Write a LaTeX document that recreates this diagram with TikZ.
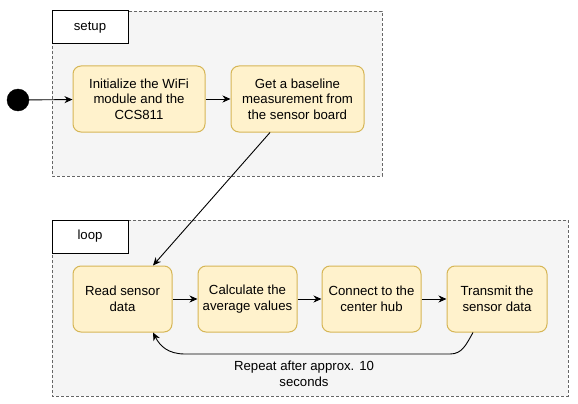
\documentclass[tikz,border=0pt]{standalone}
\usepackage{fontspec}
\setmainfont{Liberation Sans}
\usetikzlibrary{arrows.meta,calc}
\definecolor{boxfill}{HTML}{FFF2CC}
\definecolor{boxline}{HTML}{D6B656}
\definecolor{contfill}{HTML}{F5F5F5}
\definecolor{contline}{HTML}{666666}
\begin{document}
\begin{tikzpicture}[x=1pt,y=-1pt,
  every node/.style={font=\fontsize{13.2}{15.6}\selectfont, align=center, inner sep=0pt},
  container/.style={draw=contline, fill=contfill, dashed, line width=0.8pt, dash pattern=on 3pt off 2pt},
  tagbox/.style={draw=black, fill=white, line width=1pt, minimum width=76pt, minimum height=33pt},
  stepbox/.style={draw=boxline, fill=boxfill, rounded corners=8pt, line width=1pt, minimum height=66pt},
  flow/.style={draw=black, line width=0.9pt, -{Stealth[length=8pt,width=7pt,inset=2.5pt]}}
]
\useasboundingbox (0,0) rectangle (578,404);
% containers
\path[container] (52,11) rectangle (382,176);
\path[container] (52,220) rectangle (568,396);
\node[tagbox] (setup) at (90,27.5) {setup};
\node[tagbox] (loop) at (90,236.5) {loop};
% start
\node[circle, fill=black, draw=black, minimum size=22pt] (start) at (18,100) {};
% setup steps
\node[stepbox, minimum width=132pt] (init) at (139,99) {Initialize the WiFi\\module and the\\CCS811};
\node[stepbox, minimum width=133pt] (base) at (297.5,99) {Get a baseline\\measurement from\\the sensor board};
% loop steps
\node[stepbox, minimum width=99pt] (read) at (122.5,299) {Read sensor\\data};
\node[stepbox, minimum width=99pt] (calc) at (247.5,299) {Calculate the\\average values};
\node[stepbox, minimum width=99pt] (conn) at (371.5,299) {Connect to the\\center hub};
\node[stepbox, minimum width=100pt] (trans) at (497,299) {Transmit the\\sensor data};
% connectors
\draw[flow] (start) -- (init);
\draw[flow] (init) -- (base);
\coordinate (bOut) at ($(base.south)+(-27.5,0)$);
\coordinate (rIn) at ($(read.north)+(30.5,0)$);
\draw[flow] (bOut) -- (rIn);
\draw[flow] (read) -- (calc);
\draw[flow] (calc) -- (conn);
\draw[flow] (conn) -- (trans);
\coordinate (tOut) at ($(trans.south)+(-24,0)$);
\coordinate (rBack) at ($(read.south)+(30.5,0)$);
\draw[flow] (tOut) .. controls (466,345) and (462,354) .. (450,354) -- (185,354) .. controls (168,354) and (160,346) .. (rBack);
\node (rep) at (304,373.5) {Repeat after approx. 10\\seconds};
\end{tikzpicture}
\end{document}
